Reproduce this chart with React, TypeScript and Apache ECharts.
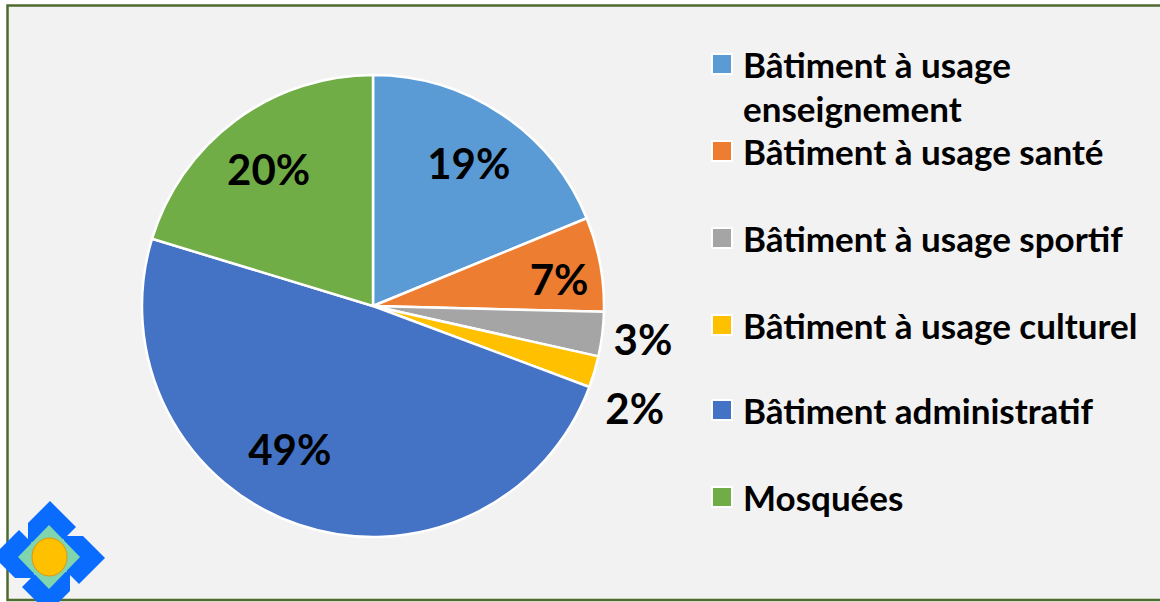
import React, { useEffect, useRef } from "react";
import * as echarts from "echarts";

const CATEGORIES = [
  "Bâtiment à usage enseignement",
  "Bâtiment à usage santé",
  "Bâtiment à usage sportif",
  "Bâtiment à usage culturel",
  "Bâtiment administratif",
  "Mosquées",
];
const VALUES = [18.8, 6.6, 3.1, 2.2, 49.0, 20.3];
const COLORS = ["#5B9BD5", "#ED7D31", "#A5A5A5", "#FFC000", "#4472C4", "#70AD47"];
const OUTSIDE_LABEL = [false, false, true, true, false, false];
const LABEL_OFFSETS = [[0, 0], [17, 4], [0, 0], [1, 24], [-28, -20], [-2, 1]];

const FONT = "Lato, 'Open Sans', sans-serif";
const CX = 373;
const CY = 306;
const R = 231;

function rotPts(pts: number[][], k: number, cx: number, cy: number) {
  return pts.map(([x, y]) => {
    let dx = x - cx;
    let dy = y - cy;
    for (let i = 0; i < k; i++) {
      const t = dx;
      dx = -dy;
      dy = t;
    }
    return [cx + dx, cy + dy];
  });
}

export default function App() {
  const ref = useRef<HTMLDivElement>(null);
  useEffect(() => {
    if (!ref.current) return;
    const chart = echarts.init(ref.current, null, { renderer: "svg" });

    const pieData = CATEGORIES.map((name, i) => ({
      name,
      value: VALUES[i],
      itemStyle: { color: COLORS[i] },
    }));

    const labelStyle = {
      fontFamily: FONT,
      fontWeight: "bold" as const,
      fontSize: 42,
      color: "#000",
      formatter: (p: any) => Math.round(p.percent) + "%",
    };

    const innerLabelData = CATEGORIES.map((name, i) => ({
      name,
      value: VALUES[i],
      itemStyle: { color: "rgba(0,0,0,0)" },
      label: {
        show: !OUTSIDE_LABEL[i],
        position: "inside",
        offset: LABEL_OFFSETS[i],
        ...labelStyle,
      },
    }));
    const outerLabelData = CATEGORIES.map((name, i) => ({
      name,
      value: VALUES[i],
      itemStyle: { color: "rgba(0,0,0,0)" },
      label: {
        show: OUTSIDE_LABEL[i],
        position: "inside",
        offset: LABEL_OFFSETS[i],
        ...labelStyle,
      },
    }));

    const iconCenters = [64, 151, 238, 325, 410, 497];
    const legends = CATEGORIES.map((name, i) => {
      const first = i === 0;
      return {
        orient: "vertical",
        left: 711,
        top: first ? iconCenters[i] - 66 : iconCenters[i] - 22,
        padding: 0,
        itemWidth: 20,
        itemHeight: 20,
        icon: "rect",
        selectedMode: false,
        data: [name],
        formatter: first ? () => "\nBâtiment à usage\nenseignement" : undefined,
        textStyle: {
          fontFamily: FONT,
          fontWeight: "bold",
          fontSize: 35,
          color: "#000",
          lineHeight: 44,
          padding: [0, 0, 0, 6],
        },
      };
    });

    const cxL = 49;
    const cyL = 557;
    const blade = [
      [50, 501],
      [76, 527],
      [61, 542],
      [28, 542],
      [28, 523],
    ];
    const blades = [0, 1, 2, 3].map((k) => ({
      type: "polygon",
      z: 10,
      shape: { points: rotPts(blade, k, cxL, cyL) },
      style: { fill: "#0A6CFF" },
    }));

    chart.setOption({
      animation: false,
      backgroundColor: "#ffffff",
      legend: legends,
      graphic: [
        {
          type: "rect",
          z: -10,
          shape: { x: 7.5, y: 5.5, width: 1165, height: 594.5 },
          style: { fill: "#F2F2F2", stroke: "#4F6B2E", lineWidth: 2.5 },
        },
        ...blades,
        {
          type: "polygon",
          z: 11,
          shape: {
            points: [
              [cxL, cyL - 32],
              [cxL + 31, cyL],
              [cxL, cyL + 32],
              [cxL - 31, cyL],
            ],
          },
          style: { fill: "#7FD6AE" },
        },
        {
          type: "ellipse",
          z: 12,
          shape: { cx: 49.5, cy: 557, rx: 17.5, ry: 19 },
          style: { fill: "#FFC000", stroke: "#E0960A", lineWidth: 1 },
        },
      ],
      series: [
        {
          type: "pie",
          center: [CX, CY],
          radius: [0, R],
          startAngle: 90,
          clockwise: true,
          silent: true,
          label: { show: false },
          labelLine: { show: false },
          emphasis: { disabled: true },
          itemStyle: { borderColor: "#ffffff", borderWidth: 2.5 },
          data: pieData,
        },
        {
          type: "pie",
          center: [CX, CY],
          radius: [107, R],
          startAngle: 90,
          clockwise: true,
          silent: true,
          z: 5,
          labelLine: { show: false },
          emphasis: { disabled: true },
          data: innerLabelData,
        },
        {
          type: "pie",
          center: [CX, CY],
          radius: [258, 280],
          startAngle: 90,
          clockwise: true,
          silent: true,
          z: 5,
          labelLine: { show: false },
          emphasis: { disabled: true },
          data: outerLabelData,
        },
      ],
    });
    return () => chart.dispose();
  }, []);
  return (
    <div
      ref={ref}
      style={{ position: "absolute", left: 0, top: 0, width: 1160, height: 602 }}
    />
  );
}
